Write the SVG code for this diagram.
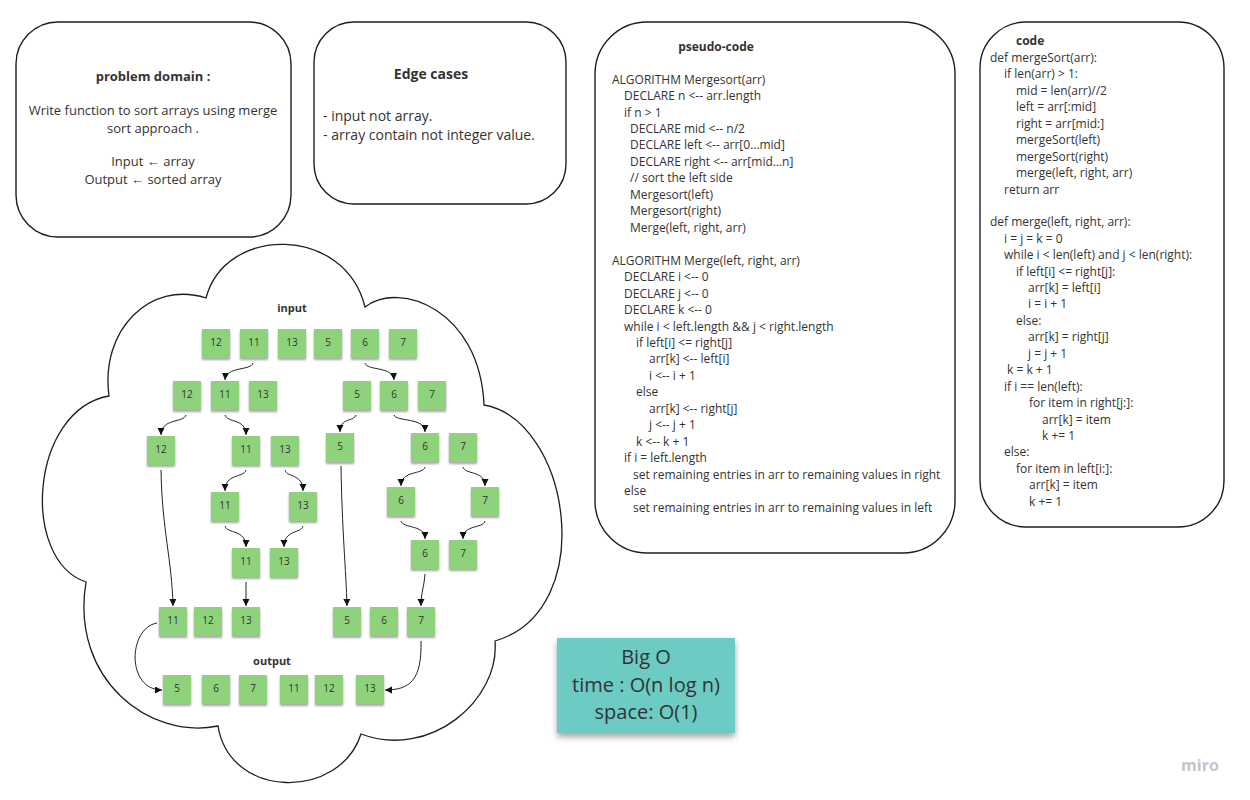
<svg xmlns="http://www.w3.org/2000/svg" width="1250" height="800" viewBox="0 0 1250 800">
<style>
.box{fill:#fff;stroke:#1e1e1e;stroke-width:1.4}
.t{font-family:"Open Sans","Noto Sans","Liberation Sans",sans-serif;fill:#333}
.b{font-weight:bold}
.pc{font-size:12px}
.note rect{fill:#8fd27b;filter:url(#sh)}
.note text{font-family:"Open Sans","Noto Sans","Liberation Sans",sans-serif;font-size:10px;fill:#333;text-anchor:middle}
.c path{fill:none;stroke:#222;stroke-width:1;marker-end:url(#ah)}
</style>
<defs>
<filter id="sh" x="-20%" y="-20%" width="140%" height="150%">
<feDropShadow dx="0" dy="2" stdDeviation="1.2" flood-color="#000" flood-opacity="0.35"/>
</filter>
<filter id="sh2" x="-10%" y="-10%" width="120%" height="130%">
<feDropShadow dx="0" dy="4" stdDeviation="3" flood-color="#000" flood-opacity="0.35"/>
</filter>
<marker id="ah" markerUnits="userSpaceOnUse" markerWidth="8" markerHeight="8" refX="7" refY="3.5" orient="auto">
<path d="M0,0 L7,3.5 L0,7 z" fill="#111"/>
</marker>
</defs>
<rect width="1250" height="800" fill="#fff"/>

<g id="problem-domain">
<rect class="box" x="16" y="22" width="275" height="215" rx="42"/>
<text class="t b" x="153" y="81" font-size="13" text-anchor="middle">problem domain :</text>
<text class="t" font-size="13" text-anchor="middle"><tspan x="153" y="115">Write function to sort arrays using merge</tspan><tspan x="153" y="133">sort approach .</tspan><tspan x="153" y="166">Input ← array</tspan><tspan x="153" y="184">Output ← sorted array</tspan></text>
</g>

<g id="edge-cases">
<rect class="box" x="314" y="22" width="252" height="182" rx="40"/>
<text class="t b" x="431" y="79" font-size="14" text-anchor="middle">Edge cases</text>
<text class="t" font-size="14"><tspan x="323" y="121">- input not array.</tspan><tspan x="323" y="140">- array contain not integer value.</tspan></text>
</g>

<g id="pseudo-code">
<rect class="box" x="595" y="22" width="360" height="531" rx="52"/>
<text class="t b" x="716" y="51" font-size="12" text-anchor="middle">pseudo-code</text>
<text class="t pc">
<tspan x="612" y="84">ALGORITHM Mergesort(arr)</tspan>
<tspan x="624" y="100">DECLARE n &lt;-- arr.length</tspan>
<tspan x="624" y="117">if n &gt; 1</tspan>
<tspan x="630" y="133">DECLARE mid &lt;-- n/2</tspan>
<tspan x="630" y="149">DECLARE left &lt;-- arr[0…mid]</tspan>
<tspan x="630" y="166">DECLARE right &lt;-- arr[mid…n]</tspan>
<tspan x="630" y="182">// sort the left side</tspan>
<tspan x="630" y="199">Mergesort(left)</tspan>
<tspan x="630" y="215">Mergesort(right)</tspan>
<tspan x="630" y="232">Merge(left, right, arr)</tspan>
<tspan x="612" y="265">ALGORITHM Merge(left, right, arr)</tspan>
<tspan x="624" y="281">DECLARE i &lt;-- 0</tspan>
<tspan x="624" y="298">DECLARE j &lt;-- 0</tspan>
<tspan x="624" y="314">DECLARE k &lt;-- 0</tspan>
<tspan x="624" y="331">while i &lt; left.length &amp;&amp; j &lt; right.length</tspan>
<tspan x="636" y="347">if left[i] &lt;= right[j]</tspan>
<tspan x="649" y="363">arr[k] &lt;-- left[i]</tspan>
<tspan x="649" y="380">i &lt;-- i + 1</tspan>
<tspan x="636" y="396">else</tspan>
<tspan x="649" y="413">arr[k] &lt;-- right[j]</tspan>
<tspan x="649" y="429">j &lt;-- j + 1</tspan>
<tspan x="636" y="446">k &lt;-- k + 1</tspan>
<tspan x="624" y="462">if i = left.length</tspan>
<tspan x="633" y="479">set remaining entries in arr to remaining values in right</tspan>
<tspan x="624" y="495">else</tspan>
<tspan x="633" y="512">set remaining entries in arr to remaining values in left</tspan>
</text>
</g>

<g id="code">
<rect class="box" x="980" y="22" width="244" height="505" rx="46"/>
<text class="t b" x="1016" y="45" font-size="12">code</text>
<text class="t pc">
<tspan x="990" y="62">def mergeSort(arr):</tspan>
<tspan x="1004" y="78">if len(arr) &gt; 1:</tspan>
<tspan x="1016" y="95">mid = len(arr)//2</tspan>
<tspan x="1016" y="111">left = arr[:mid]</tspan>
<tspan x="1016" y="128">right = arr[mid:]</tspan>
<tspan x="1016" y="144">mergeSort(left)</tspan>
<tspan x="1016" y="161">mergeSort(right)</tspan>
<tspan x="1016" y="177">merge(left, right, arr)</tspan>
<tspan x="1004" y="194">return arr</tspan>
<tspan x="990" y="226">def merge(left, right, arr):</tspan>
<tspan x="1004" y="243">i = j = k = 0</tspan>
<tspan x="1004" y="259">while i &lt; len(left) and j &lt; len(right):</tspan>
<tspan x="1016" y="276">if left[i] &lt;= right[j]:</tspan>
<tspan x="1028" y="292">arr[k] = left[i]</tspan>
<tspan x="1028" y="308">i = i + 1</tspan>
<tspan x="1016" y="325">else:</tspan>
<tspan x="1028" y="341">arr[k] = right[j]</tspan>
<tspan x="1028" y="358">j = j + 1</tspan>
<tspan x="1007" y="374">k = k + 1</tspan>
<tspan x="1004" y="391">if i == len(left):</tspan>
<tspan x="1029" y="407">for item in right[j:]:</tspan>
<tspan x="1042" y="424">arr[k] = item</tspan>
<tspan x="1042" y="440">k += 1</tspan>
<tspan x="1004" y="456">else:</tspan>
<tspan x="1016" y="473">for item in left[i:]:</tspan>
<tspan x="1029" y="489">arr[k] = item</tspan>
<tspan x="1029" y="506">k += 1</tspan>
</text>
</g>

<g id="cloud">
<path d="M206,298 C225,225 345,225 365,307 C400,280 480,310 484,405 C570,420 600,610 495,641 C500,700 430,760 361,734 C340,800 230,800 218,726 C150,740 70,680 86,582 C20,560 30,410 109,396 C100,330 150,280 206,298 Z" fill="#fff" stroke="#1e1e1e" stroke-width="1.3"/>
<text class="t b" x="292" y="312" font-size="11" text-anchor="middle">input</text>
<text class="t b" x="272" y="665" font-size="11" text-anchor="middle">output</text>
</g>

<g id="notes" class="note">
<g id="r1-12"><rect x="202" y="329" width="28" height="29"/><text x="216" y="346">12</text></g>
<g id="r1-11"><rect x="240" y="329" width="28" height="29"/><text x="254" y="346">11</text></g>
<g id="r1-13"><rect x="278" y="329" width="28" height="29"/><text x="292" y="346">13</text></g>
<g id="r1-5"><rect x="314" y="329" width="28" height="29"/><text x="328" y="346">5</text></g>
<g id="r1-6"><rect x="351" y="329" width="28" height="29"/><text x="365" y="346">6</text></g>
<g id="r1-7"><rect x="389" y="329" width="28" height="29"/><text x="403" y="346">7</text></g>

<g id="r2-12"><rect x="173" y="381" width="28" height="29"/><text x="187" y="398">12</text></g>
<g id="r2-11"><rect x="211" y="381" width="28" height="29"/><text x="225" y="398">11</text></g>
<g id="r2-13"><rect x="249" y="381" width="28" height="29"/><text x="263" y="398">13</text></g>
<g id="r2-5"><rect x="343" y="381" width="28" height="29"/><text x="357" y="398">5</text></g>
<g id="r2-6"><rect x="380" y="381" width="28" height="29"/><text x="394" y="398">6</text></g>
<g id="r2-7"><rect x="418" y="381" width="28" height="29"/><text x="432" y="398">7</text></g>

<g id="r3-12"><rect x="147" y="436" width="28" height="29"/><text x="161" y="453">12</text></g>
<g id="r3-11"><rect x="232" y="436" width="28" height="29"/><text x="246" y="453">11</text></g>
<g id="r3-13"><rect x="271" y="436" width="28" height="29"/><text x="285" y="453">13</text></g>
<g id="r3-5"><rect x="326" y="433" width="28" height="29"/><text x="340" y="450">5</text></g>
<g id="r3-6"><rect x="411" y="433" width="28" height="29"/><text x="425" y="450">6</text></g>
<g id="r3-7"><rect x="449" y="433" width="28" height="29"/><text x="463" y="450">7</text></g>

<g id="r4-11"><rect x="211" y="492" width="28" height="29"/><text x="225" y="509">11</text></g>
<g id="r4-13"><rect x="289" y="492" width="28" height="29"/><text x="303" y="509">13</text></g>
<g id="r4-6"><rect x="387" y="487" width="28" height="29"/><text x="401" y="504">6</text></g>
<g id="r4-7"><rect x="471" y="487" width="28" height="29"/><text x="485" y="504">7</text></g>

<g id="r5-11"><rect x="232" y="548" width="28" height="29"/><text x="246" y="565">11</text></g>
<g id="r5-13"><rect x="270" y="548" width="28" height="29"/><text x="284" y="565">13</text></g>
<g id="r5-6"><rect x="411" y="540" width="28" height="29"/><text x="425" y="557">6</text></g>
<g id="r5-7"><rect x="449" y="540" width="28" height="29"/><text x="463" y="557">7</text></g>

<g id="r6-11"><rect x="159" y="607" width="28" height="29"/><text x="173" y="624">11</text></g>
<g id="r6-12"><rect x="194" y="607" width="28" height="29"/><text x="208" y="624">12</text></g>
<g id="r6-13"><rect x="232" y="607" width="28" height="29"/><text x="246" y="624">13</text></g>
<g id="r6-5"><rect x="333" y="607" width="28" height="29"/><text x="347" y="624">5</text></g>
<g id="r6-6"><rect x="370" y="607" width="28" height="29"/><text x="384" y="624">6</text></g>
<g id="r6-7"><rect x="407" y="607" width="28" height="29"/><text x="421" y="624">7</text></g>

<g id="out-5"><rect x="163" y="675" width="28" height="29"/><text x="177" y="692">5</text></g>
<g id="out-6"><rect x="202" y="675" width="28" height="29"/><text x="216" y="692">6</text></g>
<g id="out-7"><rect x="239" y="675" width="28" height="29"/><text x="253" y="692">7</text></g>
<g id="out-11"><rect x="280" y="675" width="28" height="29"/><text x="294" y="692">11</text></g>
<g id="out-12"><rect x="315" y="675" width="28" height="29"/><text x="329" y="692">12</text></g>
<g id="out-13"><rect x="356" y="675" width="28" height="29"/><text x="370" y="692">13</text></g>
</g>

<g id="connectors" class="c">
<path d="M253,363 C251,371 226,366 225,380"/>
<path d="M365,363 C367,371 393,366 394,380"/>
<path d="M186,415 C184,423 161,418 161,435"/>
<path d="M225,415 C227,423 246,418 246,435"/>
<path d="M356,415 C354,422 340,417 340,432"/>
<path d="M394,415 C396,422 425,417 425,432"/>
<path d="M246,470 C244,478 225,473 225,491"/>
<path d="M285,470 C287,478 303,473 303,491"/>
<path d="M425,467 C423,475 401,470 401,486"/>
<path d="M463,467 C465,475 485,470 485,486"/>
<path d="M225,526 C227,534 246,529 246,547"/>
<path d="M303,526 C301,534 284,529 284,547"/>
<path d="M401,521 C403,529 425,524 425,539"/>
<path d="M485,521 C483,529 463,524 463,539"/>
<path d="M161,470 C162,530 172,560 173,606"/>
<path d="M246,582 L246,606"/>
<path d="M341,466 C342,530 346,570 347,606"/>
<path d="M425,574 C424,588 421,592 421,606"/>
<path d="M157,623 C128,628 126,690 162,690"/>
<path d="M421,641 C422,680 410,690 385,690"/>
</g>

<g id="big-o">
<rect x="557" y="638" width="178" height="95" fill="#6ccbc3" filter="url(#sh2)"/>
<text class="t" font-size="20" text-anchor="middle"><tspan x="646" y="664">Big O</tspan><tspan x="646" y="692">time : O(n log n)</tspan><tspan x="646" y="719">space: O(1)</tspan></text>
</g>

<text x="1200" y="771" font-family="'Open Sans','Liberation Sans',sans-serif" font-size="16" font-weight="bold" fill="#c4c5cc" text-anchor="middle">miro</text>
</svg>
